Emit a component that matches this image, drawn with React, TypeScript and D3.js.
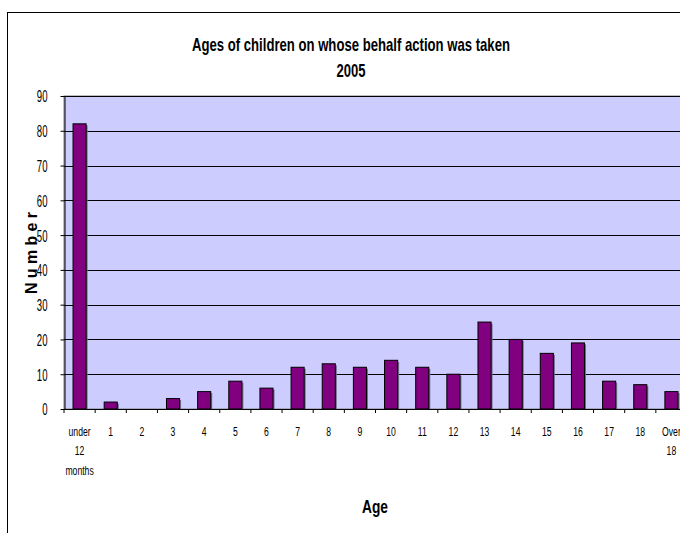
import { useEffect, useRef } from "react";
import * as d3 from "d3";

const ages = ["under 12 months", "1", "2", "3", "4", "5", "6", "7", "8", "9", "10",
  "11", "12", "13", "14", "15", "16", "17", "18", "Over 18"];
const counts = [82, 2, 0, 3, 5, 8, 6, 12, 13, 12, 14, 12, 10, 25, 20, 16, 19, 8, 7, 5];
const yTicks = [0, 10, 20, 30, 40, 50, 60, 70, 80, 90];

const titleLines = ["Ages of children on whose behalf action was taken", "2005"];

export default function App() {
  const ref = useRef<SVGSVGElement>(null);

  useEffect(() => {
    const svg = d3.select(ref.current);
    svg.selectAll("*").remove();

    const left = 64, right = 687, top = 96, bottom = 409;
    const font = "'Liberation Sans', Arial, sans-serif";

    // outer chart frame (runs off the right and bottom of the picture)
    svg.append("rect")
      .attr("x", 7.5).attr("y", 12.5).attr("width", 720).attr("height", 600)
      .attr("fill", "white").attr("stroke", "black").attr("stroke-width", 1);

    const x = d3.scaleBand<string>().domain(ages).range([left, right])
      .paddingInner(0.58).paddingOuter(0.29);
    const step = (right - left) / ages.length;
    const y = d3.scaleLinear().domain([0, 90]).range([bottom, top]);

    // plot area
    svg.append("rect")
      .attr("x", left).attr("y", top).attr("width", right - left).attr("height", bottom - top)
      .attr("fill", "#CCCCFF").attr("stroke", "#808080");

    // gridlines
    svg.selectAll(".grid").data(yTicks.filter(d => d > 0)).join("line")
      .attr("class", "grid")
      .attr("x1", left).attr("x2", right)
      .attr("y1", d => Math.round(y(d)) + 0.5).attr("y2", d => Math.round(y(d)) + 0.5)
      .attr("stroke", "black").attr("stroke-width", 1);

    // bars
    const bars = svg.append("g");
    bars.selectAll(".shadow").data(counts).join("rect")
      .attr("class", "shadow")
      .attr("x", (d, i) => x(ages[i])! + 1.5)
      .attr("y", d => y(d) + 1.5)
      .attr("width", x.bandwidth())
      .attr("height", d => (d > 0 ? bottom - y(d) - 1.5 : 0))
      .attr("fill", "#6e6e8a");
    bars.selectAll(".bar").data(counts).join("rect")
      .attr("class", "bar")
      .attr("x", (d, i) => x(ages[i])!)
      .attr("y", d => y(d))
      .attr("width", x.bandwidth())
      .attr("height", d => bottom - y(d))
      .attr("fill", "#800080")
      .attr("stroke", d => (d > 0 ? "black" : "none")).attr("stroke-width", 1);

    // y axis
    const yAxis = svg.append("g")
      .attr("transform", `translate(${left + 0.5},0)`)
      .call(d3.axisLeft(y).tickValues(yTicks).tickSize(4).tickSizeOuter(0).tickFormat(d3.format("d")));
    yAxis.select(".domain").attr("stroke", "black");
    yAxis.selectAll(".tick line").attr("stroke", "black");
    yAxis.selectAll(".tick text").remove();
    yAxis.selectAll(".tick").append("g")
      .attr("transform", "translate(-17,0) scale(0.58,1)")
      .append("text")
      .attr("text-anchor", "end").attr("dy", "0.36em")
      .attr("font-family", font).attr("font-size", 16.5).attr("fill", "black")
      .text((d: any) => String(d));

    // x axis with ticks on the category boundaries
    svg.append("line")
      .attr("x1", left).attr("x2", right).attr("y1", bottom + 0.5).attr("y2", bottom + 0.5)
      .attr("stroke", "black");
    svg.selectAll(".xtick").data(d3.range(ages.length + 1)).join("line")
      .attr("class", "xtick")
      .attr("x1", i => left + i * step).attr("x2", i => left + i * step)
      .attr("y1", bottom).attr("y2", bottom + 4)
      .attr("stroke", "black");

    const xl = svg.selectAll(".xlab").data(ages).join("g")
      .attr("class", "xlab")
      .attr("transform", d => `translate(${x(d)! + x.bandwidth() / 2},435.5) scale(0.64,1)`);
    xl.append("text")
      .attr("text-anchor", "middle")
      .attr("font-family", font).attr("font-size", 13.5).attr("fill", "black")
      .selectAll("tspan").data(d => d.split(" ")).join("tspan")
      .attr("x", 0).attr("dy", (d, i) => (i === 0 ? 0 : 20))
      .text(d => d);

    // titles
    svg.append("text")
      .attr("x", 351).attr("y", 51).attr("text-anchor", "middle")
      .attr("font-family", font).attr("font-weight", "bold").attr("font-size", 19)
      .attr("textLength", 318).attr("lengthAdjust", "spacingAndGlyphs")
      .text(titleLines[0]);
    svg.append("text")
      .attr("x", 351).attr("y", 77).attr("text-anchor", "middle")
      .attr("font-family", font).attr("font-weight", "bold").attr("font-size", 18)
      .attr("textLength", 29).attr("lengthAdjust", "spacingAndGlyphs")
      .text(titleLines[1]);

    svg.append("text")
      .attr("x", 375).attr("y", 513).attr("text-anchor", "middle")
      .attr("font-family", font).attr("font-weight", "bold").attr("font-size", 19)
      .attr("textLength", 26).attr("lengthAdjust", "spacingAndGlyphs")
      .text("Age");

    svg.append("text")
      .attr("transform", "translate(37,253) rotate(-90)")
      .attr("text-anchor", "middle")
      .attr("font-family", font).attr("font-weight", "bold").attr("font-size", 16)
      .attr("textLength", 82).attr("lengthAdjust", "spacing")
      .text("Number");
  }, []);

  return (
    <svg ref={ref} width={680} height={533}
      style={{ position: "absolute", left: 0, top: 0, background: "white" }} />
  );
}
